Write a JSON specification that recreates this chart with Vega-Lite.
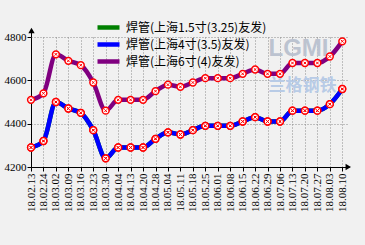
{
  "$schema": "https://vega.github.io/schema/vega-lite/v6.json",
  "width": 318,
  "height": 130,
  "autosize": {"type": "none"},
  "padding": {"left": 31, "top": 37, "right": 16, "bottom": 78},
  "background": "#f1f1f1",
  "config": {
    "view": {"stroke": null},
    "axis": {
      "labelFont": "Liberation Sans Narrow",
      "labelFontSize": 11,
      "labelColor": "#000000",
      "domainColor": "#000000",
      "tickColor": "#000000",
      "tickSize": 4,
      "grid": true,
      "gridColor": "#8a8a8a",
      "gridDash": [1, 2],
      "gridWidth": 1,
      "title": null
    },
    "legend": {
      "orient": "none",
      "legendX": 70,
      "legendY": -17,
      "padding": 0,
      "title": null,
      "labelFont": "Noto Sans CJK SC",
      "labelFontSize": 12,
      "labelColor": "#000000",
      "symbolType": "M-2.2,0H2.2",
      "symbolStrokeWidth": 4.5,
      "symbolSize": 100,
      "rowPadding": -8,
      "labelOffset": 10
    }
  },
  "datasets": {
    "prices": [
      {"date": "18.02.13", "series": "焊管(上海1.5寸(3.25)友发)", "price": 4290},
      {"date": "18.02.24", "series": "焊管(上海1.5寸(3.25)友发)", "price": 4320},
      {"date": "18.03.02", "series": "焊管(上海1.5寸(3.25)友发)", "price": 4500},
      {"date": "18.03.09", "series": "焊管(上海1.5寸(3.25)友发)", "price": 4470},
      {"date": "18.03.16", "series": "焊管(上海1.5寸(3.25)友发)", "price": 4450},
      {"date": "18.03.23", "series": "焊管(上海1.5寸(3.25)友发)", "price": 4370},
      {"date": "18.03.30", "series": "焊管(上海1.5寸(3.25)友发)", "price": 4240},
      {"date": "18.04.04", "series": "焊管(上海1.5寸(3.25)友发)", "price": 4290},
      {"date": "18.04.13", "series": "焊管(上海1.5寸(3.25)友发)", "price": 4290},
      {"date": "18.04.20", "series": "焊管(上海1.5寸(3.25)友发)", "price": 4290},
      {"date": "18.04.28", "series": "焊管(上海1.5寸(3.25)友发)", "price": 4330},
      {"date": "18.05.04", "series": "焊管(上海1.5寸(3.25)友发)", "price": 4360},
      {"date": "18.05.11", "series": "焊管(上海1.5寸(3.25)友发)", "price": 4350},
      {"date": "18.05.18", "series": "焊管(上海1.5寸(3.25)友发)", "price": 4370},
      {"date": "18.05.25", "series": "焊管(上海1.5寸(3.25)友发)", "price": 4390},
      {"date": "18.06.01", "series": "焊管(上海1.5寸(3.25)友发)", "price": 4390},
      {"date": "18.06.08", "series": "焊管(上海1.5寸(3.25)友发)", "price": 4390},
      {"date": "18.06.15", "series": "焊管(上海1.5寸(3.25)友发)", "price": 4410},
      {"date": "18.06.22", "series": "焊管(上海1.5寸(3.25)友发)", "price": 4430},
      {"date": "18.06.29", "series": "焊管(上海1.5寸(3.25)友发)", "price": 4410},
      {"date": "18.07.06", "series": "焊管(上海1.5寸(3.25)友发)", "price": 4410},
      {"date": "18.07.13", "series": "焊管(上海1.5寸(3.25)友发)", "price": 4460},
      {"date": "18.07.20", "series": "焊管(上海1.5寸(3.25)友发)", "price": 4460},
      {"date": "18.07.27", "series": "焊管(上海1.5寸(3.25)友发)", "price": 4460},
      {"date": "18.08.03", "series": "焊管(上海1.5寸(3.25)友发)", "price": 4490},
      {"date": "18.08.10", "series": "焊管(上海1.5寸(3.25)友发)", "price": 4560},
      {"date": "18.02.13", "series": "焊管(上海4寸(3.5)友发)", "price": 4290},
      {"date": "18.02.24", "series": "焊管(上海4寸(3.5)友发)", "price": 4320},
      {"date": "18.03.02", "series": "焊管(上海4寸(3.5)友发)", "price": 4500},
      {"date": "18.03.09", "series": "焊管(上海4寸(3.5)友发)", "price": 4470},
      {"date": "18.03.16", "series": "焊管(上海4寸(3.5)友发)", "price": 4450},
      {"date": "18.03.23", "series": "焊管(上海4寸(3.5)友发)", "price": 4370},
      {"date": "18.03.30", "series": "焊管(上海4寸(3.5)友发)", "price": 4240},
      {"date": "18.04.04", "series": "焊管(上海4寸(3.5)友发)", "price": 4290},
      {"date": "18.04.13", "series": "焊管(上海4寸(3.5)友发)", "price": 4290},
      {"date": "18.04.20", "series": "焊管(上海4寸(3.5)友发)", "price": 4290},
      {"date": "18.04.28", "series": "焊管(上海4寸(3.5)友发)", "price": 4330},
      {"date": "18.05.04", "series": "焊管(上海4寸(3.5)友发)", "price": 4360},
      {"date": "18.05.11", "series": "焊管(上海4寸(3.5)友发)", "price": 4350},
      {"date": "18.05.18", "series": "焊管(上海4寸(3.5)友发)", "price": 4370},
      {"date": "18.05.25", "series": "焊管(上海4寸(3.5)友发)", "price": 4390},
      {"date": "18.06.01", "series": "焊管(上海4寸(3.5)友发)", "price": 4390},
      {"date": "18.06.08", "series": "焊管(上海4寸(3.5)友发)", "price": 4390},
      {"date": "18.06.15", "series": "焊管(上海4寸(3.5)友发)", "price": 4410},
      {"date": "18.06.22", "series": "焊管(上海4寸(3.5)友发)", "price": 4430},
      {"date": "18.06.29", "series": "焊管(上海4寸(3.5)友发)", "price": 4410},
      {"date": "18.07.06", "series": "焊管(上海4寸(3.5)友发)", "price": 4410},
      {"date": "18.07.13", "series": "焊管(上海4寸(3.5)友发)", "price": 4460},
      {"date": "18.07.20", "series": "焊管(上海4寸(3.5)友发)", "price": 4460},
      {"date": "18.07.27", "series": "焊管(上海4寸(3.5)友发)", "price": 4460},
      {"date": "18.08.03", "series": "焊管(上海4寸(3.5)友发)", "price": 4490},
      {"date": "18.08.10", "series": "焊管(上海4寸(3.5)友发)", "price": 4560},
      {"date": "18.02.13", "series": "焊管(上海6寸(4)友发)", "price": 4510},
      {"date": "18.02.24", "series": "焊管(上海6寸(4)友发)", "price": 4540},
      {"date": "18.03.02", "series": "焊管(上海6寸(4)友发)", "price": 4720},
      {"date": "18.03.09", "series": "焊管(上海6寸(4)友发)", "price": 4690},
      {"date": "18.03.16", "series": "焊管(上海6寸(4)友发)", "price": 4670},
      {"date": "18.03.23", "series": "焊管(上海6寸(4)友发)", "price": 4590},
      {"date": "18.03.30", "series": "焊管(上海6寸(4)友发)", "price": 4460},
      {"date": "18.04.04", "series": "焊管(上海6寸(4)友发)", "price": 4510},
      {"date": "18.04.13", "series": "焊管(上海6寸(4)友发)", "price": 4510},
      {"date": "18.04.20", "series": "焊管(上海6寸(4)友发)", "price": 4510},
      {"date": "18.04.28", "series": "焊管(上海6寸(4)友发)", "price": 4550},
      {"date": "18.05.04", "series": "焊管(上海6寸(4)友发)", "price": 4580},
      {"date": "18.05.11", "series": "焊管(上海6寸(4)友发)", "price": 4570},
      {"date": "18.05.18", "series": "焊管(上海6寸(4)友发)", "price": 4590},
      {"date": "18.05.25", "series": "焊管(上海6寸(4)友发)", "price": 4610},
      {"date": "18.06.01", "series": "焊管(上海6寸(4)友发)", "price": 4610},
      {"date": "18.06.08", "series": "焊管(上海6寸(4)友发)", "price": 4610},
      {"date": "18.06.15", "series": "焊管(上海6寸(4)友发)", "price": 4630},
      {"date": "18.06.22", "series": "焊管(上海6寸(4)友发)", "price": 4650},
      {"date": "18.06.29", "series": "焊管(上海6寸(4)友发)", "price": 4630},
      {"date": "18.07.06", "series": "焊管(上海6寸(4)友发)", "price": 4630},
      {"date": "18.07.13", "series": "焊管(上海6寸(4)友发)", "price": 4680},
      {"date": "18.07.20", "series": "焊管(上海6寸(4)友发)", "price": 4680},
      {"date": "18.07.27", "series": "焊管(上海6寸(4)友发)", "price": 4680},
      {"date": "18.08.03", "series": "焊管(上海6寸(4)友发)", "price": 4710},
      {"date": "18.08.10", "series": "焊管(上海6寸(4)友发)", "price": 4780}
    ],
    "marks": [{"label": "LGMI", "sub": "兰格钢铁"}]
  },
  "resolve": {"scale": {"x": "shared", "y": "shared"}},
  "layer": [
    {
      "data": {"name": "marks"},
      "mark": {"type": "text", "font": "Liberation Sans", "fontWeight": "bold", "fontSize": 24, "color": "#bcc3d0", "align": "center", "baseline": "middle", "dx": 6},
      "encoding": {
        "x": {"datum": "18.07.13", "type": "ordinal"},
        "y": {"datum": 4745, "type": "quantitative"},
        "text": {"field": "label"}
      }
    },
    {
      "data": {"name": "marks"},
      "mark": {"type": "text", "font": "Noto Sans CJK SC", "fontWeight": "bold", "fontSize": 17, "color": "#b8cbe6", "align": "center", "baseline": "alphabetic", "dx": 10},
      "encoding": {
        "x": {"datum": "18.07.13", "type": "ordinal"},
        "y": {"datum": 4551, "type": "quantitative"},
        "text": {"field": "sub"}
      }
    },
    {
      "data": {"name": "prices"},
      "mark": {"type": "line", "interpolate": "monotone", "strokeWidth": 4.5},
      "encoding": {
        "x": {
          "field": "date", "type": "ordinal", "sort": null,
          "scale": {
            "type": "point", "padding": 0.27, "align": 0,
            "domain": ["18.02.13", "18.02.24", "18.03.02", "18.03.09", "18.03.16", "18.03.23", "18.03.30", "18.04.04", "18.04.13", "18.04.20", "18.04.28", "18.05.04", "18.05.11", "18.05.18", "18.05.25", "18.06.01", "18.06.08", "18.06.15", "18.06.22", "18.06.29", "18.07.06", "18.07.13", "18.07.20", "18.07.27", "18.08.03", "18.08.10"]
          },
          "axis": {"labelAngle": 270, "labelPadding": 2}
        },
        "y": {
          "field": "price", "type": "quantitative",
          "scale": {"domain": [4200, 4800], "nice": false, "zero": false},
          "axis": {"values": [4200, 4400, 4600, 4800], "labelPadding": 1, "format": "d"}
        },
        "color": {
          "field": "series", "type": "nominal",
          "scale": {
            "domain": ["焊管(上海1.5寸(3.25)友发)", "焊管(上海4寸(3.5)友发)", "焊管(上海6寸(4)友发)"],
            "range": ["#008000", "#0000ff", "#800080"]
          }
        }
      }
    },
    {
      "data": {"name": "prices"},
      "mark": {"type": "point", "shape": "circle", "size": 46, "filled": true, "fill": "#ffffff", "stroke": "#ff0000", "strokeWidth": 1.5, "opacity": 1},
      "encoding": {
        "x": {"field": "date", "type": "ordinal", "sort": null},
        "y": {"field": "price", "type": "quantitative"}
      }
    },
    {
      "data": {"name": "prices"},
      "mark": {"type": "point", "shape": "M-1,-1L1,1M1,-1L-1,1", "size": 7, "filled": false, "stroke": "#ff0000", "strokeWidth": 1, "opacity": 1},
      "encoding": {
        "x": {"field": "date", "type": "ordinal", "sort": null},
        "y": {"field": "price", "type": "quantitative"}
      }
    },
    {
      "data": {"name": "marks"},
      "mark": {"type": "rule", "color": "#000000", "strokeWidth": 1, "xOffset": 0.5},
      "encoding": {
        "x": {"datum": "18.02.13", "type": "ordinal"},
        "y": {"datum": 4800, "type": "quantitative"},
        "y2": {"datum": 4828}
      }
    },
    {
      "data": {"name": "marks"},
      "mark": {"type": "point", "shape": "triangle-up", "size": 40, "filled": true, "color": "#000000", "opacity": 1, "xOffset": 0.5},
      "encoding": {
        "x": {"datum": "18.02.13", "type": "ordinal"},
        "y": {"datum": 4830, "type": "quantitative"}
      }
    },
    {
      "data": {"name": "marks"},
      "mark": {"type": "point", "shape": "triangle-right", "size": 40, "filled": true, "color": "#000000", "opacity": 1, "xOffset": 6},
      "encoding": {
        "x": {"datum": "18.08.10", "type": "ordinal"},
        "y": {"datum": 4200, "type": "quantitative"}
      }
    }
  ]
}
